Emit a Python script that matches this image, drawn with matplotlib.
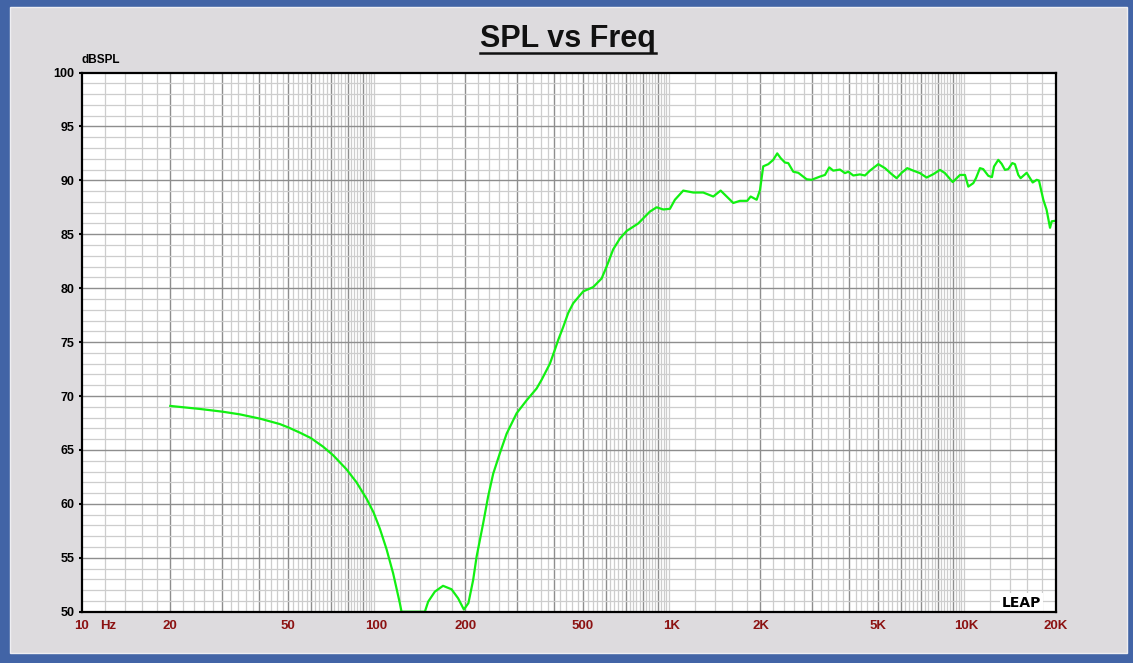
import numpy as np
import matplotlib
matplotlib.use("Agg")
import matplotlib.pyplot as plt
from matplotlib.patches import Rectangle
from matplotlib.lines import Line2D
from matplotlib.transforms import offset_copy

plt.rcParams['font.family'] = ['Liberation Sans', 'DejaVu Sans']

freq = [20, 25.2, 30, 34.4, 40.3, 47, 50.4, 55, 59.9, 65.9, 71.3, 79.1, 85.5, 92.4, 97.7,
        102.6, 108.1, 113.8, 119.9, 121.5, 145.8, 149.6, 157.6, 168, 179.5, 189, 197.7,
        204.8, 212.5, 218.3, 229.8, 238.9, 248.5, 261.8, 275.9, 298.3, 322.5, 348.7, 362.5,
        386.8, 402.2, 412.7, 429.1, 446.2, 463.9, 501.5, 542.2, 579.1, 602.1, 633.9, 667.7,
        703.6, 770.5, 844, 889.6, 936.5, 987, 1026, 1095, 1184, 1280, 1384, 1466, 1536,
        1618, 1704, 1804, 1853, 1942, 1993, 2044, 2126, 2210, 2280, 2342, 2422, 2485, 2584,
        2687, 2868, 2982, 3183, 3309, 3422, 3530, 3720, 3868, 3970, 4128, 4347, 4521, 4701,
        5017, 5286, 5570, 5788, 6021, 6288, 6592, 6945, 7317, 7706, 8120, 8439, 8966, 9491,
        9868, 10127, 10530, 10753, 11093, 11376, 11838, 12180, 12376, 12797, 13139, 13485,
        13835, 14276, 14574, 14961, 15233, 15970, 16740, 17271, 17580, 18185, 18659, 19162,
        19420, 20000]
spl = [69.08, 68.8, 68.55, 68.3, 67.9, 67.4, 67.07, 66.6, 66.1, 65.3, 64.5, 63.2, 62.0, 60.5, 59.2,
       57.7, 55.8, 53.56, 50.8, 50.0, 50.0, 50.93, 51.86, 52.4, 52.08, 51.24, 50.2,
       50.8, 52.94, 55.1, 58.2, 60.7, 62.8, 64.7, 66.5, 68.4, 69.6, 70.7, 71.5,
       73.0, 74.3, 75.2, 76.4, 77.7, 78.6, 79.7, 80.1, 80.9, 82.0, 83.6, 84.6,
       85.3, 86.0, 87.1, 87.5, 87.3, 87.36, 88.2, 89.05, 88.87, 88.87, 88.5, 89.05, 88.5,
       87.9, 88.1, 88.1, 88.5, 88.2, 89.1, 91.3, 91.5, 91.9, 92.5, 92.06, 91.65, 91.6, 90.8,
       90.7, 90.1, 90.05, 90.35, 90.5, 91.2, 90.9, 91.0, 90.67, 90.8, 90.45, 90.55, 90.45, 90.9,
       91.5, 91.13, 90.57, 90.2, 90.7, 91.13, 90.9, 90.67, 90.26, 90.57, 90.97, 90.67, 89.84, 90.5,
       90.5, 89.42, 89.74, 90.2, 91.13, 91.04, 90.42, 90.3, 91.28, 91.9, 91.53, 90.97,
       91.04, 91.6, 91.5, 90.5, 90.2, 90.7, 89.8, 90.05, 89.98, 88.2, 87.26, 85.6,
       86.2, 86.25]

x_ticks = [10, 20, 50, 100, 200, 500, 1000, 2000, 5000, 10000, 20000]
x_labels = ['10', '20', '50', '100', '200', '500', '1K', '2K', '5K', '10K', '20K']
y_ticks = [50, 55, 60, 65, 70, 75, 80, 85, 90, 95, 100]

W, H = 1133, 663
fig = plt.figure(figsize=(W / 100, H / 100), dpi=100, facecolor='#4264a6')
# gray inner panel
fig.patches.append(Rectangle((10 / W, 1 - 653 / H), 1117 / W, 646 / H, transform=fig.transFigure,
                             facecolor='#dddbde', edgecolor='#eeeef2', linewidth=1, zorder=-5))

ax = fig.add_axes([81.5 / W, 1 - 611.7 / H, 974 / W, 539.2 / H])
ax.set_zorder(2)
ax.set_facecolor('white')
ax.set_xscale('log')
ax.set_xlim(10, 20000)
ax.set_ylim(50, 100)

# LEAP style grid: every 0.2 step inside each decade, darker on integer multiples
for dec in [10, 100, 1000, 10000]:
    for m in np.arange(1.2, 10.0, 0.2):
        f = dec * m
        if f >= 20000:
            continue
        whole = abs(m - round(m)) < 1e-6
        ax.axvline(f, color='#8e8e8e' if whole else '#cdcdcd', lw=1.0 if whole else 0.9, zorder=1)
for db in range(51, 100):
    ax.axhline(db, color='#8e8e8e' if db % 5 == 0 else '#cdcdcd', lw=1.0 if db % 5 == 0 else 0.9, zorder=1)

ax.plot(freq, spl, color='#12f012', lw=1.6, zorder=3, solid_joinstyle='round')

ax.set_xticks(x_ticks)
ax.set_xticklabels(x_labels)
ax.xaxis.set_minor_locator(matplotlib.ticker.NullLocator())
ax.set_yticks(y_ticks)
ax.set_yticklabels([str(v) for v in y_ticks])
ax.tick_params(axis='x', length=0, pad=6, labelsize=9.5, labelcolor='#8c1212')
ax.tick_params(axis='y', length=2, width=1.5, pad=3, labelsize=9, labelcolor='black')
for lab in ax.get_xticklabels() + ax.get_yticklabels():
    lab.set_fontweight('bold')
for s in ax.spines.values():
    s.set_linewidth(1.6)
    s.set_color('black')
    s.set_zorder(5)

hz_trans = offset_copy(ax.get_xaxis_transform(), fig=fig, x=0, y=-6, units='points')
ax.text(12.3, 0, 'Hz', transform=hz_trans, ha='center', va='top',
        fontsize=9.5, fontweight='bold', color='#8c1212')
ax.text(0, 1.012, 'dBSPL', transform=ax.transAxes, ha='left', va='bottom',
        fontsize=8.5, fontweight='bold')
ax.text(0.965, 0.017, 'LEAP', transform=ax.transAxes, ha='center', va='center',
        fontsize=10, fontweight='bold', family='DejaVu Sans',
        bbox=dict(facecolor='white', edgecolor='none', pad=1.5), zorder=4)

title = fig.text(568 / W, 1 - 46.7 / H, 'SPL vs Freq', ha='center', va='baseline',
                 fontsize=22, fontweight='bold', color='#111111')
fig.canvas.draw()
bb = title.get_window_extent().transformed(fig.transFigure.inverted())
fig.add_artist(Line2D([bb.x0, bb.x1], [1 - 52.5 / H] * 2, transform=fig.transFigure,
                      color='#111111', lw=1.8))

plt.savefig('out.png', dpi=100, facecolor=fig.get_facecolor())
